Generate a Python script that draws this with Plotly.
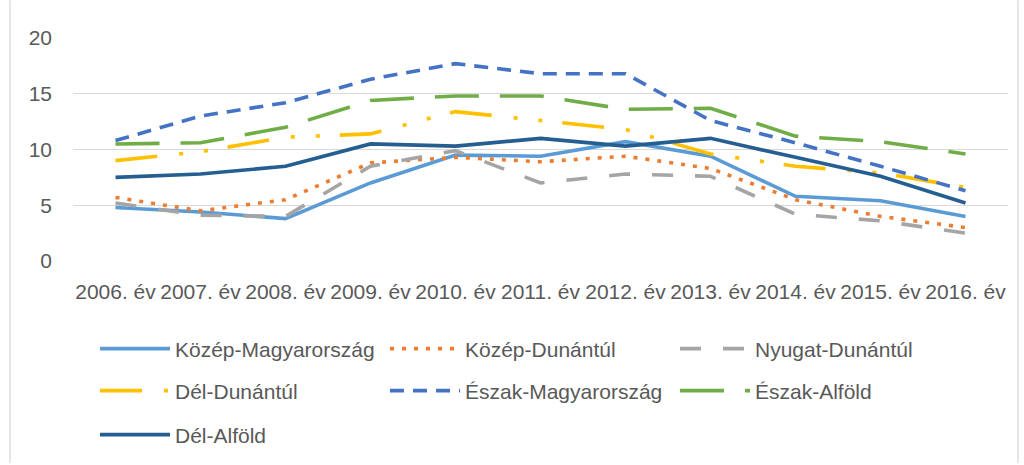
import plotly.graph_objects as go

years = ["2006. év", "2007. év", "2008. év", "2009. év", "2010. év", "2011. év",
         "2012. év", "2013. év", "2014. év", "2015. év", "2016. év"]

kozep_magyarorszag = [4.8, 4.4, 3.8, 7.0, 9.5, 9.4, 10.7, 9.4, 5.8, 5.4, 4.0]
kozep_dunantul = [5.7, 4.5, 5.5, 8.8, 9.3, 8.9, 9.4, 8.3, 5.5, 4.0, 3.0]
nyugat_dunantul = [5.2, 4.1, 4.0, 8.5, 9.9, 7.0, 7.8, 7.6, 4.2, 3.6, 2.5]
del_dunantul = [9.0, 9.8, 11.1, 11.4, 13.4, 12.6, 11.8, 9.6, 8.5, 7.9, 6.6]
eszak_magyarorszag = [10.8, 13.0, 14.2, 16.3, 17.7, 16.8, 16.8, 12.6, 10.6, 8.5, 6.3]
eszak_alfold = [10.5, 10.6, 12.0, 14.4, 14.8, 14.8, 13.6, 13.7, 11.2, 10.7, 9.6]
del_alfold = [7.5, 7.8, 8.5, 10.5, 10.3, 11.0, 10.3, 11.0, 9.3, 7.6, 5.2]

series = [
    ("Közép-Magyarország", kozep_magyarorszag, "#5B9BD5", "solid", "legend"),
    ("Közép-Dunántúl", kozep_dunantul, "#ED7D31", "4px,8px", "legend"),
    ("Nyugat-Dunántúl", nyugat_dunantul, "#A5A5A5", "21px,22px", "legend"),
    ("Dél-Dunántúl", del_dunantul, "#FFC000", "42px,22px,4px,21px,4px,20px", "legend2"),
    ("Észak-Magyarország", eszak_magyarorszag, "#4472C4", "14px,9px", "legend2"),
    ("Észak-Alföld", eszak_alfold, "#70AD47", "44px,21px", "legend2"),
    ("Dél-Alföld", del_alfold, "#255E91", "solid", "legend3"),
]

fig = go.Figure()
for name, vals, color, dash, lg in series:
    fig.add_trace(go.Scatter(
        x=years, y=vals, name=name, mode="lines",
        line=dict(color=color, width=3.6, dash=dash),
        legend=lg,
    ))

W, H = 1024, 465
ml, mr, mt, mb = 73, 16, 38, 203
pw = W - ml - mr
ph = H - mt - mb

def px_x(px):
    return (px - ml) / pw

def px_y(py):
    return (H - mb - py) / ph

font_main = "Liberation Sans, Arial, sans-serif"
txt_color = "#595959"

legend_common = dict(
    orientation="h", xanchor="left", yanchor="middle",
    font=dict(family=font_main, size=21, color=txt_color),
    itemwidth=70, entrywidth=205, entrywidthmode="pixels",
    bgcolor="rgba(0,0,0,0)", tracegroupgap=0,
)

fig.update_layout(
    width=W, height=H,
    margin=dict(l=ml, r=mr, t=mt, b=mb),
    paper_bgcolor="white", plot_bgcolor="white",
    font=dict(family=font_main, size=21, color=txt_color),
    showlegend=True,
    legend=dict(x=px_x(95), y=px_y(349), **legend_common),
    legend2=dict(x=px_x(95), y=px_y(391), **legend_common),
    legend3=dict(x=px_x(95), y=px_y(435), **legend_common),
    xaxis=dict(
        type="category", range=[-0.5, 10.5], tickangle=0,
        showgrid=False, showline=False, zeroline=False,
        tickfont=dict(family=font_main, size=21, color=txt_color),
        ticks="", ticklabelstandoff=16,
    ),
    yaxis=dict(
        range=[0, 20], dtick=5, tick0=0,
        showgrid=True, gridcolor="#D9D9D9", gridwidth=1.3,
        zeroline=False, showline=False,
        tickfont=dict(family=font_main, size=21, color=txt_color),
        ticks="", ticklabelstandoff=20,
    ),
    shapes=[
        dict(type="line", xref="paper", yref="paper",
             x0=px_x(10), x1=px_x(10), y0=px_y(465), y1=px_y(0),
             line=dict(color="#D9D9D9", width=1.3)),
        dict(type="line", xref="paper", yref="paper",
             x0=px_x(1018), x1=px_x(1018), y0=px_y(465), y1=px_y(0),
             line=dict(color="#D9D9D9", width=1.3)),
    ],
)

fig.write_html("out.html", config={"displayModeBar": False},
               post_script="document.body.style.margin='0px';")
